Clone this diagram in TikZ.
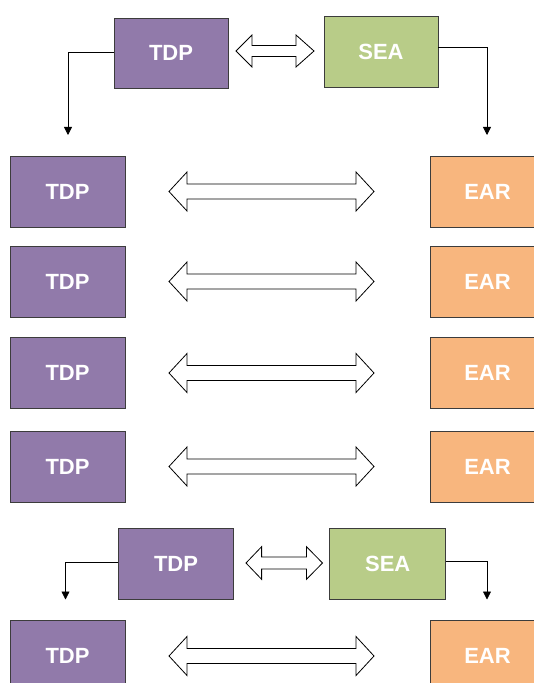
\documentclass[tikz,border=0pt]{standalone}
\usepackage{fontspec}
\setmainfont{Liberation Sans}
\usetikzlibrary{arrows.meta}
\definecolor{tdpc}{RGB}{145,122,170}
\definecolor{seac}{RGB}{184,204,136}
\definecolor{earc}{RGB}{248,182,126}
\definecolor{bordc}{RGB}{60,60,60}
\tikzset{
  box/.style={draw=bordc, line width=0.9bp, minimum width=115bp, minimum height=71bp,
    inner sep=0pt, text=white, font=\fontsize{22bp}{26bp}\selectfont\bfseries},
  tdpbox/.style={box, fill=tdpc},
  seabox/.style={box, fill=seac},
  earbox/.style={box, fill=earc},
  blk/.style={draw=black, line width=0.8bp, fill=white, line join=miter},
  conn/.style={draw=black, line width=0.8bp, -{Triangle[width=8bp,length=8bp]}}
}
\newcommand\dblarrow[7]{%
  \draw[blk] (#1,#5) -- (#3,#5-#6) -- (#3,#5-#7) -- (#4,#5-#7) -- (#4,#5-#6) -- (#2,#5)
    -- (#4,#5+#6) -- (#4,#5+#7) -- (#3,#5+#7) -- (#3,#5+#6) -- cycle;}
\begin{document}
\begin{tikzpicture}[x=1bp,y=-1bp]
\useasboundingbox (0,0) rectangle (534,683);
\fill[white] (0,0) rectangle (534,683);
% top group
\node[tdpbox, minimum width=114bp, minimum height=70bp] (tdpT) at (171,53.3) {TDP};
\node[seabox, minimum width=114bp, minimum height=71bp] (seaT) at (381,51.6) {SEA};
\dblarrow{236}{314}{252}{296}{51}{16}{5.5}
% rows
\foreach \i/\yc in {1/191.5,2/281.5,3/373,4/466.5,5/656}{
  \node[tdpbox] (tdp\i) at (67.5,\yc) {TDP};
  \node[earbox] (ear\i) at (487.5,\yc) {EAR};
  \dblarrow{169}{374}{187}{356}{\yc}{19.5}{7.5}
}
% bottom group
\node[tdpbox] (tdpB) at (176,563.7) {TDP};
\node[seabox, minimum width=116bp] (seaB) at (387.7,563.7) {SEA};
\dblarrow{246}{322.5}{261.6}{306.5}{563}{16.3}{6}
% connectors
\coordinate (cTL) at (68,135);
\coordinate (cTR) at (487,135);
\coordinate (cBL) at (65.5,599.5);
\coordinate (cBR) at (487,599.5);
\draw[conn] ([yshift=1bp]tdpT.west) -| (cTL);
\draw[conn] ([yshift=4bp]seaT.east) -| (cTR);
\draw[conn] ([yshift=1bp]tdpB.west) -| (cBL);
\draw[conn] ([yshift=2.4bp]seaB.east) -| (cBR);
\end{tikzpicture}
\end{document}
